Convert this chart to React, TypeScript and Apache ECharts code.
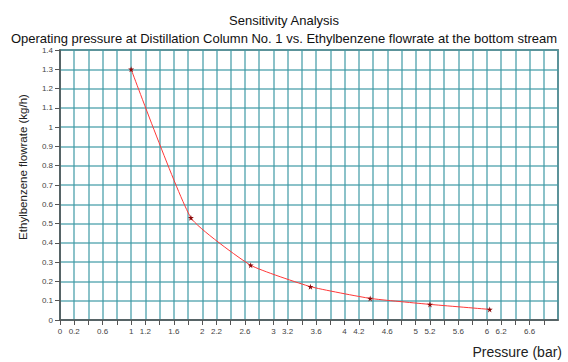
import React, { useEffect, useRef } from "react";
import * as echarts from "echarts";

// Pressure (bar) at the column vs. ethylbenzene flowrate at the bottom stream (kg/h)
const pressures = [1.0, 1.84, 2.68, 3.52, 4.36, 5.2, 6.04];
const flowrates = [1.3, 0.53, 0.284, 0.173, 0.112, 0.081, 0.055];

const titleText = "Sensitivity Analysis";
const subtitleText =
  "Operating pressure at Distillation Column No. 1 vs. Ethylbenzene flowrate at the bottom stream";
const xName = "Pressure (bar)";
const yName = "Ethylbenzene flowrate (kg/h)";

const starPath =
  "path://M50,0 L61,35 L98,35 L68,57 L79,91 L50,70 L21,91 L32,57 L2,35 L39,35 Z";

// x tick labels: within each unit only .0, .2 and .6 are labelled
function fmtX(v: number): string {
  const r = Math.round(v * 10) / 10;
  const frac = Math.round((r - Math.floor(r + 1e-9)) * 10);
  if (frac === 4 || frac === 8) return "";
  if (r >= 7) return "";
  return String(r);
}

export default function App() {
  const ref = useRef<HTMLDivElement>(null);
  useEffect(() => {
    if (!ref.current) return;
    const chart = echarts.init(ref.current, undefined, { renderer: "svg" });
    const font = "Liberation Sans, Arial, sans-serif";
    chart.setOption({
      animation: false,
      backgroundColor: "#ffffff",
      textStyle: { fontFamily: font },
      title: [
        {
          text: titleText,
          left: "center",
          top: 8,
          textStyle: {
            fontSize: 13,
            lineHeight: 14,
            fontWeight: "normal",
            color: "#111",
            fontFamily: font,
          },
        },
        {
          text: subtitleText,
          left: "center",
          top: 26,
          textStyle: {
            fontSize: 13,
            lineHeight: 14,
            fontWeight: "normal",
            color: "#111",
            fontFamily: font,
          },
        },
      ],
      graphic: [
        {
          type: "text",
          x: 23,
          y: 167,
          rotation: Math.PI / 2,
          style: {
            text: yName,
            fontSize: 11.5,
            fontFamily: font,
            fill: "#222",
            align: "center",
            verticalAlign: "middle",
          },
        },
      ],
      grid: {
        left: 60,
        right: 10,
        top: 50,
        bottom: 42,
        show: true,
        borderColor: "#8a8a8a",
        borderWidth: 2,
        backgroundColor: "transparent",
      },
      xAxis: {
        type: "value",
        min: 0,
        max: 7,
        interval: 0.2,
        name: xName,
        nameLocation: "end",
        nameGap: 0,
        nameTextStyle: {
          fontSize: 14,
          color: "#222",
          align: "right",
          verticalAlign: "top",
          padding: [25, -4, 0, 0],
        },
        axisLine: { show: true, lineStyle: { color: "#555", width: 1.5 } },
        axisTick: { show: true, length: 5, lineStyle: { color: "#555" } },
        axisLabel: {
          fontSize: 8,
          color: "#444",
          margin: 7,
          showMaxLabel: false,
          formatter: (v: number) => fmtX(v),
        },
        splitLine: { show: true, lineStyle: { color: "#3f9aa6", width: 1.5, opacity: 0.8 } },
      },
      yAxis: {
        type: "value",
        min: 0,
        max: 1.4,
        interval: 0.1,
        axisLine: { show: true, lineStyle: { color: "#555", width: 1.5 } },
        axisTick: { show: true, length: 5, lineStyle: { color: "#555" } },
        axisLabel: {
          fontSize: 8,
          lineHeight: 8,
          color: "#444",
          margin: 7,
          formatter: (v: number) => String(Math.round(v * 10) / 10),
        },
        splitLine: { show: true, lineStyle: { color: "#3f9aa6", width: 1.5, opacity: 0.8 } },
      },
      series: [
        {
          type: "line",
          data: pressures.map((p, i) => [p, flowrates[i]]),
          smooth: 0.15,
          lineStyle: { color: "#ff3838", width: 1 },
          symbol: starPath,
          symbolSize: 6,
          itemStyle: { color: "#8b0a0a" },
        },
      ],
    });
    return () => chart.dispose();
  }, []);
  return (
    <div
      ref={ref}
      style={{ position: "fixed", left: 0, top: 0, width: 568, height: 362 }}
    />
  );
}
